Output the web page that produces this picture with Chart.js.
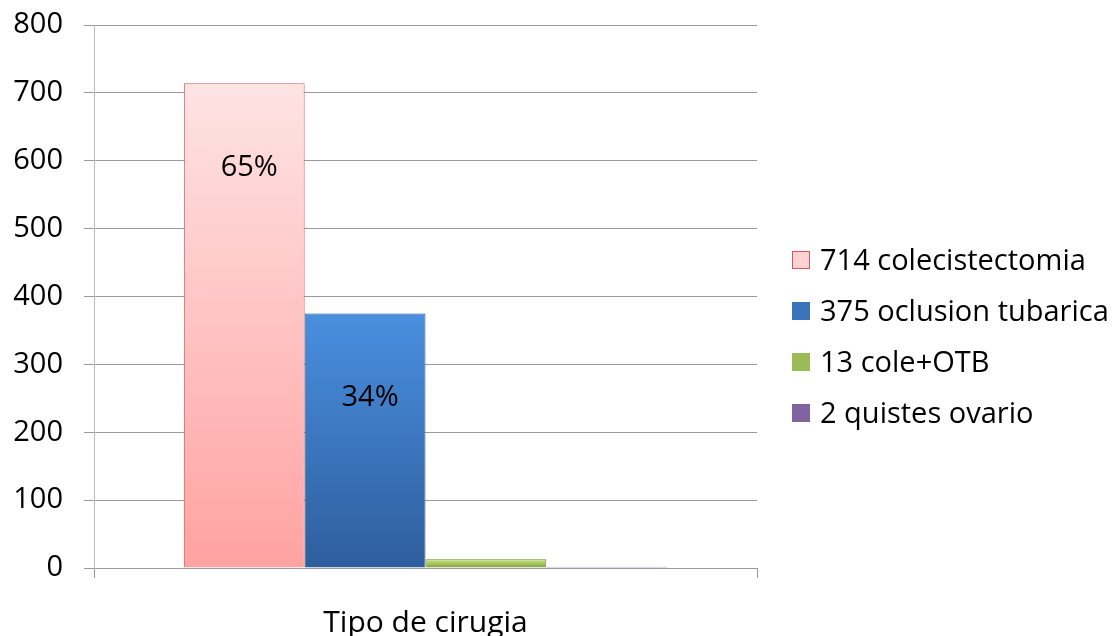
<!DOCTYPE html>
<html>
<head>
<meta charset="utf-8">
<script src="https://cdn.jsdelivr.net/npm/chart.js@4.4.1/dist/chart.umd.min.js"></script>
<style>
  html, body { margin: 0; padding: 0; background: #fff; }
  #wrap { width: 1112px; height: 636px; }
</style>
</head>
<body>
<div id="wrap"><canvas id="chart"></canvas></div>
<script>
const CATEGORIES = ["Tipo de cirugia"];
const SERIES_NAMES = ["714 colecistectomia", "375 oclusion tubarica", "13 cole+OTB", "2 quistes ovario"];
const SERIES_VALUES = [714, 375, 13, 2];
const BAR_LABELS = ["65%", "34%", "", ""];
const Y_TICKS = [0, 100, 200, 300, 400, 500, 600, 700, 800];

const FONT = "'Open Sans', Lato, sans-serif";

// gradient top / bottom, border, legend swatch
const STYLES = [
  { top: "#ffe3e3", bottom: "#ffa2a2", border: "#cf5a5a", swatch: "#ffd2d2" },
  { top: "#4a8fe0", bottom: "#2e5e9c", border: "#2a5686", swatch: "#3c74ba" },
  { top: "#cde88a", bottom: "#7f9f38", border: "#6d8a2e", swatch: "#9bbb59" },
  { top: "#9a7fbd", bottom: "#7a5e9c", border: "#6b5190", swatch: "#8064a2" }
];

function barGradient(i) {
  return (ctx) => {
    const chart = ctx.chart;
    const y = chart.scales.y;
    if (!chart.chartArea || !y) return STYLES[i].swatch;
    const top = y.getPixelForValue(SERIES_VALUES[i]);
    const bottom = y.getPixelForValue(0);
    const g = chart.ctx.createLinearGradient(0, top, 0, Math.max(bottom, top + 1));
    g.addColorStop(0, STYLES[i].top);
    g.addColorStop(1, STYLES[i].bottom);
    return g;
  };
}

/* labels inside the two big bars */
const barLabelPlugin = {
  id: "barLabels",
  afterDatasetsDraw(chart) {
    const ctx = chart.ctx;
    ctx.save();
    ctx.font = "29px " + FONT;
    ctx.fillStyle = "#000";
    ctx.textAlign = "center";
    ctx.textBaseline = "middle";
    chart.data.datasets.forEach((ds, i) => {
      if (!BAR_LABELS[i]) return;
      const bar = chart.getDatasetMeta(i).data[0];
      ctx.fillText(BAR_LABELS[i], bar.x + 5, bar.y + 84);
    });
    ctx.restore();
  }
};

/* legend on the right, drawn by hand */
const sideLegendPlugin = {
  id: "sideLegend",
  afterDraw(chart) {
    const ctx = chart.ctx;
    ctx.save();
    ctx.font = "29px " + FONT;
    ctx.textBaseline = "middle";
    ctx.textAlign = "left";
    chart.data.datasets.forEach((ds, i) => {
      const cy = 260 + i * 51;
      const s = STYLES[i];
      ctx.fillStyle = s.swatch;
      ctx.fillRect(792, cy - 9, 18, 18);
      if (i === 0) {
        ctx.strokeStyle = s.border;
        ctx.lineWidth = 1;
        ctx.strokeRect(792.5, cy - 8.5, 17, 17);
      }
      ctx.fillStyle = "#000";
      ctx.fillText(ds.label, 820, cy + 2);
    });
    ctx.restore();
  }
};

new Chart(document.getElementById("chart"), {
  type: "bar",
  data: {
    labels: CATEGORIES,
    datasets: SERIES_NAMES.map((name, i) => ({
      label: name,
      data: [SERIES_VALUES[i]],
      backgroundColor: barGradient(i),
      borderColor: STYLES[i].border,
      borderWidth: 1,
      categoryPercentage: 0.729,
      barPercentage: 1.0
    }))
  },
  options: {
    responsive: true,
    maintainAspectRatio: false,
    animation: false,
    layout: { padding: { top: 25, right: 355, bottom: 0, left: 0 } },
    plugins: {
      legend: { display: false },
      tooltip: { enabled: false }
    },
    scales: {
      x: {
        afterFit: s => { s.height = 68; },
        grid: {
          display: true,
          offset: true,
          drawOnChartArea: false,
          tickLength: 10,
          color: "#999"
        },
        border: { display: false },
        ticks: { color: "#000", font: { family: FONT, size: 30 }, padding: 27 }
      },
      y: {
        min: 0,
        max: 800,
        afterFit: s => { s.width = 94; s.paddingTop = 0; s.paddingBottom = 0; },
        afterBuildTicks: s => { s.ticks = Y_TICKS.map(v => ({ value: v })); },
        grid: { color: "#9a9a9a", tickLength: 10 },
        border: { display: true, color: "#bdbdbd" },
        ticks: { color: "#000", font: { family: FONT, size: 29 }, padding: 21 }
      }
    }
  },
  plugins: [barLabelPlugin, sideLegendPlugin]
});
</script>
</body>
</html>
